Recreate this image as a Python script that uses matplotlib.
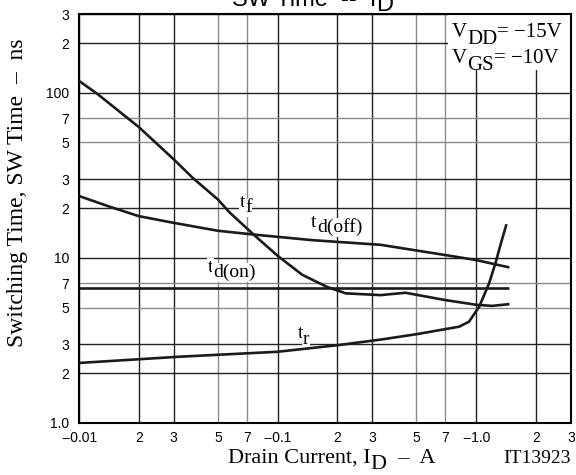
import matplotlib
matplotlib.use("Agg")
import matplotlib.pyplot as plt
from matplotlib.patches import Rectangle
from matplotlib.ticker import NullLocator

# switching times vs drain current (log-log)
tf_x = [0.01, 0.0123, 0.02, 0.03, 0.0374, 0.05, 0.0574, 0.078, 0.1, 0.133, 0.176, 0.22, 0.33, 0.44, 0.7, 1.0, 1.2, 1.47]
tf_y = [118, 99, 62, 39.5, 30.5, 22.6, 18.8, 13.4, 10.3, 7.9, 6.7, 6.1, 5.95, 6.15, 5.55, 5.2, 5.12, 5.25]

tdoff_x = [0.01, 0.0143, 0.02, 0.03, 0.05, 0.078, 0.15, 0.33, 0.7, 1.0, 1.47]
tdoff_y = [23.7, 20.4, 17.9, 16.3, 14.6, 13.8, 12.8, 12.0, 10.4, 9.7, 8.75]

tdon_x = [0.01, 1.47]
tdon_y = [6.55, 6.55]

tr_x = [0.01, 0.032, 0.1, 0.205, 0.33, 0.5, 0.82, 0.92, 1.035, 1.16, 1.25, 1.33, 1.42]
tr_y = [2.31, 2.52, 2.70, 2.97, 3.2, 3.45, 3.83, 4.11, 5.06, 7.0, 9.3, 12.2, 16.0]

x_ticks = [0.01, 0.02, 0.03, 0.05, 0.07, 0.1, 0.2, 0.3, 0.5, 0.7, 1.0, 2, 3]
x_labels = ["--0.01", "2", "3", "5", "7", "--0.1", "2", "3", "5", "7", "--1.0", "2", "3"]
y_ticks = [1, 2, 3, 5, 7, 10, 20, 30, 50, 70, 100, 200, 300]
y_labels = ["1.0", "2", "3", "5", "7", "10", "2", "3", "5", "7", "100", "2", "3"]

SANS = "Liberation Sans"
SERIF = "Liberation Serif"


def chain(first, parts, size, family, drop=4, bg=None):
    # glue text pieces after `first`; lowered pieces act as subscripts
    prev, prev_low = first, False
    for s, low in parts:
        dy = 0
        if low and not prev_low:
            dy = -drop
        elif prev_low and not low:
            dy = drop
        kw = {}
        if bg:
            kw["bbox"] = dict(facecolor=bg, edgecolor="none", pad=0.5)
        prev = first.axes.annotate(s, xy=(1, 0), xycoords=prev, xytext=(0, dy),
                                   textcoords="offset points", ha="left", va="bottom",
                                   fontsize=size, family=family,
                                   zorder=first.get_zorder(), annotation_clip=False, **kw)
        prev_low = low


def curve_label(ax, x, y, sub):
    t = ax.text(x, y, "t", fontsize=14, family=SERIF, va="baseline", zorder=2.5,
                bbox=dict(facecolor="white", edgecolor="none", pad=0.5))
    chain(t, [(sub, True)], 14, SERIF, drop=4, bg="white")


fig = plt.figure(figsize=(5.76, 4.75), dpi=100)
ax = fig.add_axes([79 / 576, 52 / 475, 492 / 576, 409 / 475])
ax.set_xscale("log")
ax.set_yscale("log")
ax.set_xlim(0.01, 3)
ax.set_ylim(1, 300)

ax.set_xticks(x_ticks, x_labels)
ax.set_yticks(y_ticks, y_labels)
ax.xaxis.set_minor_locator(NullLocator())
ax.yaxis.set_minor_locator(NullLocator())
ax.tick_params(length=0, labelsize=10)
ax.tick_params(axis="x", pad=6)
ax.tick_params(axis="y", pad=7)
for lab in ax.get_xticklabels() + ax.get_yticklabels():
    lab.set_family(SANS)

ax.grid(True, zorder=1)
for val, gl in zip(x_ticks, ax.get_xgridlines()):
    lead = f"{val:.0e}"[0]
    gl.set_color("#8a8a8a" if lead in "57" else "#222222")
    gl.set_linewidth(1.0)
for val, gl in zip(y_ticks, ax.get_ygridlines()):
    lead = f"{val:.0e}"[0]
    gl.set_color("#8a8a8a" if lead in "57" else "#222222")
    gl.set_linewidth(1.0)
ax.set_axisbelow(True)
for sp in ax.spines.values():
    sp.set_linewidth(1.5)

lw = 1.9
for xs, ys in [(tf_x, tf_y), (tdoff_x, tdoff_y), (tdon_x, tdon_y), (tr_x, tr_y)]:
    ax.plot(xs, ys, color="#1a1a1a", lw=lw, zorder=3, solid_capstyle="butt")

curve_label(ax, 0.0644, 20.4, "f")
curve_label(ax, 0.1477, 15.45, "d(off)")
curve_label(ax, 0.0445, 8.25, "d(on)")
curve_label(ax, 0.126, 3.26, "r")

# bias conditions box, upper right
ax.add_patch(Rectangle((0.75, 0.863), 0.25, 0.137, transform=ax.transAxes,
                       facecolor="white", edgecolor="none", zorder=2))
v1 = ax.text(0.758, 0.944, "V", transform=ax.transAxes, fontsize=15, family=SERIF,
             va="baseline", zorder=4)
chain(v1, [("DD", True), ("= \u221215V", False)], 15, SERIF, drop=5)
v2 = ax.text(0.758, 0.881, "V", transform=ax.transAxes, fontsize=15, family=SERIF,
             va="baseline", zorder=4)
chain(v2, [("GS", True), ("= \u221210V", False)], 15, SERIF, drop=5)

# title, partly above the canvas
ttl = ax.text(232 / 576, 1 - 5.5 / 475, "SW Time  --  I", transform=fig.transFigure,
              fontsize=17, family=SANS, va="baseline", clip_on=False)
chain(ttl, [("D", True)], 17, SANS, drop=4)

xl = ax.text(228 / 576, 1 - 463 / 475, "Drain Current, I", transform=fig.transFigure,
             fontsize=16, family=SERIF, va="baseline")
chain(xl, [("D", True), ("  \u2013  A", False)], 16, SERIF, drop=4)

fig.text(571 / 576, 1 - 463 / 475, "IT13923", fontsize=14, family=SERIF,
         ha="right", va="baseline")

fig.text(18 / 576, (475 - 193) / 475, "Switching Time, SW Time  \u2013  ns",
         rotation=90, fontsize=17, family=SERIF, ha="center", va="center")

fig.savefig("out.png", dpi=100)
